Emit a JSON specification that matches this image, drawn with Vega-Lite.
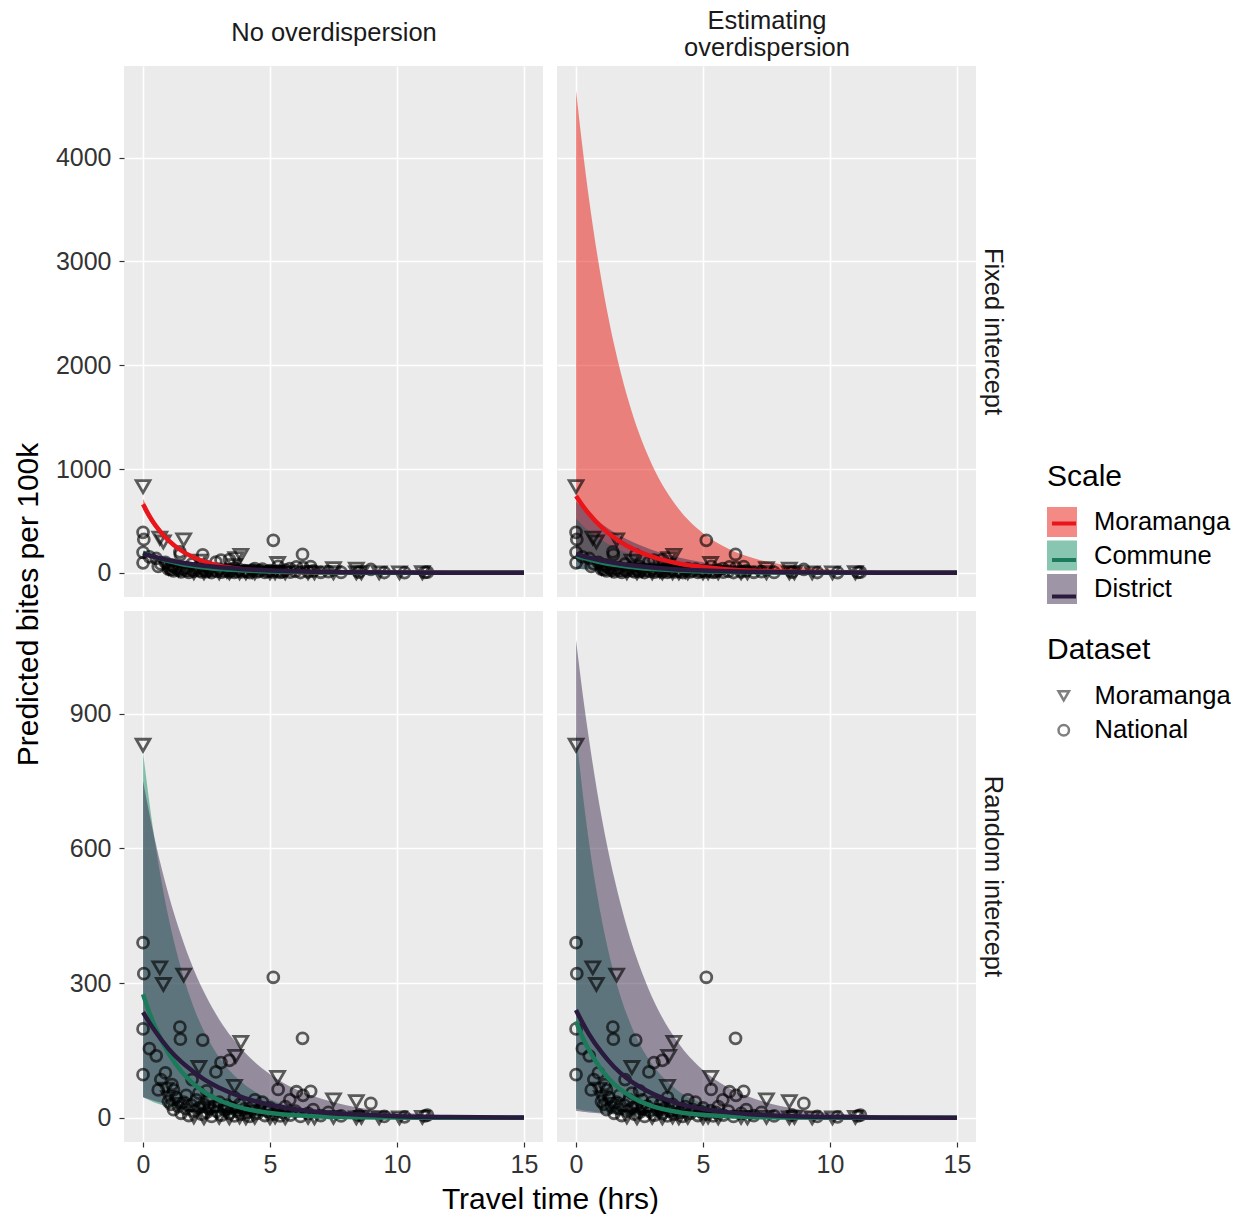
{
  "$schema": "https://vega.github.io/schema/vega-lite/v6.json",
  "background": "white",
  "padding": {"left": 13, "top": 8, "right": 0, "bottom": 0},
  "config": {
    "font": "Liberation Sans",
    "view": {"fill": "#EBEBEB", "stroke": null},
    "axis": {"domain": false, "grid": true, "gridColor": "white", "gridWidth": 1.6, "tickColor": "#333333", "tickSize": 5, "tickWidth": 1.2, "labelFontSize": 25, "labelColor": "#333333", "labelPadding": 5, "titleFontSize": 30, "titleFontWeight": "normal", "titleColor": "black", "labelFont": "Liberation Sans", "titleFont": "Liberation Sans", "format": "d"},
    "axisY": {"labelPadding": 8},
    "legend": {"labelFontSize": 25.5, "titleFontSize": 30, "titleFontWeight": "normal", "titleColor": "black", "labelColor": "black", "labelFont": "Liberation Sans", "titleFont": "Liberation Sans"}
  },
  "datasets": {
    "curves": [
      {"p":"TL","s":"Moramanga","x":0,"lo":607,"mid":660,"hi":713},
      {"p":"TL","s":"Moramanga","x":0.25,"lo":503,"mid":547,"hi":591},
      {"p":"TL","s":"Moramanga","x":0.5,"lo":417,"mid":453,"hi":489},
      {"p":"TL","s":"Moramanga","x":1,"lo":287,"mid":312,"hi":337},
      {"p":"TL","s":"Moramanga","x":1.5,"lo":198,"mid":215,"hi":232},
      {"p":"TL","s":"Moramanga","x":2,"lo":135,"mid":147,"hi":159},
      {"p":"TL","s":"Moramanga","x":2.5,"lo":93,"mid":101,"hi":109},
      {"p":"TL","s":"Moramanga","x":3,"lo":63,"mid":69,"hi":75},
      {"p":"TL","s":"Moramanga","x":4,"lo":30,"mid":33,"hi":36},
      {"p":"TL","s":"Moramanga","x":5,"lo":14,"mid":15.5,"hi":17},
      {"p":"TL","s":"Moramanga","x":6,"lo":6.7,"mid":7.3,"hi":7.9},
      {"p":"TL","s":"Moramanga","x":7,"lo":3.2,"mid":3.5,"hi":3.8},
      {"p":"TL","s":"Moramanga","x":8,"lo":1.5,"mid":1.6,"hi":1.7},
      {"p":"TL","s":"Moramanga","x":10,"lo":0.4,"mid":0.4,"hi":0.4},
      {"p":"TL","s":"Moramanga","x":12,"lo":0.1,"mid":0.1,"hi":0.1},
      {"p":"TL","s":"Moramanga","x":15,"lo":0,"mid":0,"hi":0},
      {"p":"TL","s":"Commune","x":0,"lo":176,"mid":195,"hi":215},
      {"p":"TL","s":"Commune","x":0.25,"lo":153,"mid":170,"hi":187},
      {"p":"TL","s":"Commune","x":0.5,"lo":133,"mid":148,"hi":163},
      {"p":"TL","s":"Commune","x":1,"lo":101,"mid":113,"hi":124},
      {"p":"TL","s":"Commune","x":1.5,"lo":77,"mid":85,"hi":94},
      {"p":"TL","s":"Commune","x":2,"lo":58,"mid":65,"hi":71},
      {"p":"TL","s":"Commune","x":2.5,"lo":44,"mid":49,"hi":54},
      {"p":"TL","s":"Commune","x":3,"lo":34,"mid":37,"hi":41},
      {"p":"TL","s":"Commune","x":4,"lo":19,"mid":22,"hi":24},
      {"p":"TL","s":"Commune","x":5,"lo":11,"mid":12.5,"hi":14},
      {"p":"TL","s":"Commune","x":6,"lo":6.5,"mid":7.2,"hi":7.9},
      {"p":"TL","s":"Commune","x":7,"lo":3.7,"mid":4.2,"hi":4.6},
      {"p":"TL","s":"Commune","x":8,"lo":2.2,"mid":2.4,"hi":2.6},
      {"p":"TL","s":"Commune","x":10,"lo":0.7,"mid":0.8,"hi":0.9},
      {"p":"TL","s":"Commune","x":12,"lo":0.2,"mid":0.3,"hi":0.3},
      {"p":"TL","s":"Commune","x":15,"lo":0,"mid":0.05,"hi":0.1},
      {"p":"TL","s":"District","x":0,"lo":167,"mid":185,"hi":204},
      {"p":"TL","s":"District","x":0.25,"lo":150,"mid":167,"hi":183},
      {"p":"TL","s":"District","x":0.5,"lo":135,"mid":150,"hi":165},
      {"p":"TL","s":"District","x":1,"lo":109,"mid":122,"hi":134},
      {"p":"TL","s":"District","x":1.5,"lo":89,"mid":99,"hi":108},
      {"p":"TL","s":"District","x":2,"lo":72,"mid":80,"hi":88},
      {"p":"TL","s":"District","x":2.5,"lo":58,"mid":65,"hi":71},
      {"p":"TL","s":"District","x":3,"lo":47,"mid":53,"hi":58},
      {"p":"TL","s":"District","x":4,"lo":31,"mid":34,"hi":38},
      {"p":"TL","s":"District","x":5,"lo":20,"mid":22.6,"hi":25},
      {"p":"TL","s":"District","x":6,"lo":13.4,"mid":14.9,"hi":16.4},
      {"p":"TL","s":"District","x":7,"lo":8.8,"mid":9.8,"hi":10.8},
      {"p":"TL","s":"District","x":8,"lo":5.8,"mid":6.4,"hi":7.1},
      {"p":"TL","s":"District","x":10,"lo":2.5,"mid":2.8,"hi":3.1},
      {"p":"TL","s":"District","x":12,"lo":1.1,"mid":1.2,"hi":1.3},
      {"p":"TL","s":"District","x":15,"lo":0.3,"mid":0.3,"hi":0.4},
      {"p":"TR","s":"Moramanga","x":0,"lo":120,"mid":740,"hi":4650},
      {"p":"TR","s":"Moramanga","x":0.25,"lo":105,"mid":650,"hi":4104},
      {"p":"TR","s":"Moramanga","x":0.5,"lo":91,"mid":571,"hi":3621},
      {"p":"TR","s":"Moramanga","x":1,"lo":69,"mid":440,"hi":2820},
      {"p":"TR","s":"Moramanga","x":1.5,"lo":53,"mid":339,"hi":2197},
      {"p":"TR","s":"Moramanga","x":2,"lo":40,"mid":261,"hi":1711},
      {"p":"TR","s":"Moramanga","x":2.5,"lo":30,"mid":202,"hi":1332},
      {"p":"TR","s":"Moramanga","x":3,"lo":23,"mid":155,"hi":1037},
      {"p":"TR","s":"Moramanga","x":4,"lo":13.3,"mid":92,"hi":629},
      {"p":"TR","s":"Moramanga","x":5,"lo":7.7,"mid":55,"hi":382},
      {"p":"TR","s":"Moramanga","x":6,"lo":4.4,"mid":33,"hi":232},
      {"p":"TR","s":"Moramanga","x":7,"lo":2.6,"mid":19.5,"hi":140},
      {"p":"TR","s":"Moramanga","x":8,"lo":1.5,"mid":11.5,"hi":85},
      {"p":"TR","s":"Moramanga","x":10,"lo":0.5,"mid":4.1,"hi":31},
      {"p":"TR","s":"Moramanga","x":12,"lo":0.2,"mid":1.4,"hi":11.5},
      {"p":"TR","s":"Moramanga","x":15,"lo":0.03,"mid":0.3,"hi":2.6},
      {"p":"TR","s":"Commune","x":0,"lo":40,"mid":165,"hi":520},
      {"p":"TR","s":"Commune","x":0.25,"lo":35,"mid":146,"hi":459},
      {"p":"TR","s":"Commune","x":0.5,"lo":31,"mid":129,"hi":405},
      {"p":"TR","s":"Commune","x":1,"lo":24,"mid":100,"hi":315},
      {"p":"TR","s":"Commune","x":1.5,"lo":19,"mid":78,"hi":246},
      {"p":"TR","s":"Commune","x":2,"lo":15,"mid":61,"hi":191},
      {"p":"TR","s":"Commune","x":2.5,"lo":11.5,"mid":47,"hi":149},
      {"p":"TR","s":"Commune","x":3,"lo":8.9,"mid":37,"hi":116},
      {"p":"TR","s":"Commune","x":4,"lo":5.4,"mid":22,"hi":70},
      {"p":"TR","s":"Commune","x":5,"lo":3.3,"mid":13.5,"hi":43},
      {"p":"TR","s":"Commune","x":6,"lo":2,"mid":8.2,"hi":26},
      {"p":"TR","s":"Commune","x":7,"lo":1.2,"mid":5,"hi":15.7},
      {"p":"TR","s":"Commune","x":8,"lo":0.7,"mid":3,"hi":9.5},
      {"p":"TR","s":"Commune","x":10,"lo":0.3,"mid":1.1,"hi":3.5},
      {"p":"TR","s":"Commune","x":12,"lo":0.1,"mid":0.4,"hi":1.3},
      {"p":"TR","s":"Commune","x":15,"lo":0,"mid":0.1,"hi":0.3},
      {"p":"TR","s":"District","x":0,"lo":40,"mid":180,"hi":690},
      {"p":"TR","s":"District","x":0.25,"lo":36,"mid":162,"hi":627},
      {"p":"TR","s":"District","x":0.5,"lo":32,"mid":146,"hi":571},
      {"p":"TR","s":"District","x":1,"lo":26,"mid":118,"hi":472},
      {"p":"TR","s":"District","x":1.5,"lo":21,"mid":96,"hi":391},
      {"p":"TR","s":"District","x":2,"lo":17,"mid":78,"hi":323},
      {"p":"TR","s":"District","x":2.5,"lo":14,"mid":63,"hi":267},
      {"p":"TR","s":"District","x":3,"lo":11.4,"mid":51,"hi":221},
      {"p":"TR","s":"District","x":4,"lo":7.4,"mid":33,"hi":151},
      {"p":"TR","s":"District","x":5,"lo":4.9,"mid":22,"hi":103},
      {"p":"TR","s":"District","x":6,"lo":3.2,"mid":14.5,"hi":70},
      {"p":"TR","s":"District","x":7,"lo":2.1,"mid":9.5,"hi":48},
      {"p":"TR","s":"District","x":8,"lo":1.4,"mid":6.2,"hi":33},
      {"p":"TR","s":"District","x":10,"lo":0.6,"mid":2.7,"hi":15.5},
      {"p":"TR","s":"District","x":12,"lo":0.3,"mid":1.2,"hi":7.2},
      {"p":"TR","s":"District","x":15,"lo":0.1,"mid":0.3,"hi":2.3},
      {"p":"BL","s":"Commune","x":0,"lo":45,"mid":275,"hi":815},
      {"p":"BL","s":"Commune","x":0.25,"lo":39,"mid":234,"hi":702},
      {"p":"BL","s":"Commune","x":0.5,"lo":33,"mid":199,"hi":604},
      {"p":"BL","s":"Commune","x":1,"lo":25,"mid":144,"hi":447},
      {"p":"BL","s":"Commune","x":1.5,"lo":18,"mid":104,"hi":332},
      {"p":"BL","s":"Commune","x":2,"lo":13.5,"mid":75,"hi":245},
      {"p":"BL","s":"Commune","x":2.5,"lo":10,"mid":54,"hi":182},
      {"p":"BL","s":"Commune","x":3,"lo":7.4,"mid":39,"hi":134},
      {"p":"BL","s":"Commune","x":4,"lo":4.1,"mid":20.4,"hi":74},
      {"p":"BL","s":"Commune","x":5,"lo":2.2,"mid":10.7,"hi":41},
      {"p":"BL","s":"Commune","x":6,"lo":1.2,"mid":5.6,"hi":22},
      {"p":"BL","s":"Commune","x":7,"lo":0.7,"mid":2.9,"hi":12.2},
      {"p":"BL","s":"Commune","x":8,"lo":0.4,"mid":1.5,"hi":6.7},
      {"p":"BL","s":"Commune","x":10,"lo":0.1,"mid":0.4,"hi":2},
      {"p":"BL","s":"Commune","x":12,"lo":0,"mid":0.1,"hi":0.6},
      {"p":"BL","s":"Commune","x":15,"lo":0,"mid":0,"hi":0.1},
      {"p":"BL","s":"District","x":0,"lo":46,"mid":235,"hi":750},
      {"p":"BL","s":"District","x":0.25,"lo":41,"mid":212,"hi":677},
      {"p":"BL","s":"District","x":0.5,"lo":37,"mid":191,"hi":611},
      {"p":"BL","s":"District","x":1,"lo":29,"mid":154,"hi":498},
      {"p":"BL","s":"District","x":1.5,"lo":23,"mid":125,"hi":406},
      {"p":"BL","s":"District","x":2,"lo":18.7,"mid":102,"hi":330},
      {"p":"BL","s":"District","x":2.5,"lo":15,"mid":82,"hi":269},
      {"p":"BL","s":"District","x":3,"lo":11.9,"mid":67,"hi":219},
      {"p":"BL","s":"District","x":4,"lo":7.6,"mid":44,"hi":146},
      {"p":"BL","s":"District","x":5,"lo":4.8,"mid":29,"hi":97},
      {"p":"BL","s":"District","x":6,"lo":3.1,"mid":18.9,"hi":64},
      {"p":"BL","s":"District","x":7,"lo":2,"mid":12.4,"hi":43},
      {"p":"BL","s":"District","x":8,"lo":1.3,"mid":8.2,"hi":28},
      {"p":"BL","s":"District","x":10,"lo":0.5,"mid":3.5,"hi":12.5},
      {"p":"BL","s":"District","x":12,"lo":0.2,"mid":1.5,"hi":5.5},
      {"p":"BL","s":"District","x":15,"lo":0.1,"mid":0.4,"hi":1.6},
      {"p":"BR","s":"Commune","x":0,"lo":20,"mid":215,"hi":860},
      {"p":"BR","s":"Commune","x":0.25,"lo":17,"mid":180,"hi":729},
      {"p":"BR","s":"Commune","x":0.5,"lo":15,"mid":152,"hi":618},
      {"p":"BR","s":"Commune","x":1,"lo":11,"mid":107,"hi":445},
      {"p":"BR","s":"Commune","x":1.5,"lo":8.1,"mid":75,"hi":320},
      {"p":"BR","s":"Commune","x":2,"lo":6,"mid":53,"hi":230},
      {"p":"BR","s":"Commune","x":2.5,"lo":4.5,"mid":37,"hi":165},
      {"p":"BR","s":"Commune","x":3,"lo":3.3,"mid":26,"hi":119},
      {"p":"BR","s":"Commune","x":4,"lo":1.8,"mid":13,"hi":61},
      {"p":"BR","s":"Commune","x":5,"lo":1,"mid":6.5,"hi":32},
      {"p":"BR","s":"Commune","x":6,"lo":0.5,"mid":3.2,"hi":16.4},
      {"p":"BR","s":"Commune","x":7,"lo":0.3,"mid":1.6,"hi":8.5},
      {"p":"BR","s":"Commune","x":8,"lo":0.2,"mid":0.8,"hi":4.4},
      {"p":"BR","s":"Commune","x":10,"lo":0,"mid":0.2,"hi":1.2},
      {"p":"BR","s":"Commune","x":12,"lo":0,"mid":0,"hi":0.3},
      {"p":"BR","s":"Commune","x":15,"lo":0,"mid":0,"hi":0},
      {"p":"BR","s":"District","x":0,"lo":15,"mid":240,"hi":1065},
      {"p":"BR","s":"District","x":0.25,"lo":13.4,"mid":212,"hi":949},
      {"p":"BR","s":"District","x":0.5,"lo":12,"mid":187,"hi":847},
      {"p":"BR","s":"District","x":1,"lo":9.6,"mid":146,"hi":672},
      {"p":"BR","s":"District","x":1.5,"lo":7.6,"mid":113,"hi":535},
      {"p":"BR","s":"District","x":2,"lo":6.1,"mid":88,"hi":425},
      {"p":"BR","s":"District","x":2.5,"lo":4.9,"mid":69,"hi":338},
      {"p":"BR","s":"District","x":3,"lo":3.9,"mid":54,"hi":268},
      {"p":"BR","s":"District","x":4,"lo":2.5,"mid":32,"hi":169},
      {"p":"BR","s":"District","x":5,"lo":1.6,"mid":19.7,"hi":106.5},
      {"p":"BR","s":"District","x":6,"lo":1,"mid":12,"hi":67},
      {"p":"BR","s":"District","x":7,"lo":0.6,"mid":7.2,"hi":43},
      {"p":"BR","s":"District","x":8,"lo":0.4,"mid":4.4,"hi":27},
      {"p":"BR","s":"District","x":10,"lo":0.2,"mid":1.6,"hi":10.8},
      {"p":"BR","s":"District","x":12,"lo":0.1,"mid":0.6,"hi":4.3},
      {"p":"BR","s":"District","x":15,"lo":0,"mid":0.1,"hi":1.1}
    ],
    "pts": [
      {"d":"Moramanga","x":0,"y":830},{"d":"Moramanga","x":0.66,"y":334},{"d":"Moramanga","x":0.8,"y":297},{"d":"Moramanga","x":1.6,"y":318},
      {"d":"Moramanga","x":3.85,"y":168},{"d":"Moramanga","x":3.65,"y":137},{"d":"Moramanga","x":5.3,"y":90},{"d":"Moramanga","x":2.2,"y":112},
      {"d":"Moramanga","x":3.6,"y":70},{"d":"Moramanga","x":0.9,"y":64},{"d":"Moramanga","x":7.5,"y":40},{"d":"Moramanga","x":8.4,"y":36},
      {"d":"Moramanga","x":1.0,"y":45},{"d":"Moramanga","x":1.4,"y":30},{"d":"Moramanga","x":2.6,"y":22},{"d":"Moramanga","x":3.3,"y":15},
      {"d":"Moramanga","x":4.3,"y":12},{"d":"Moramanga","x":2.0,"y":2},{"d":"Moramanga","x":2.4,"y":0},{"d":"Moramanga","x":3.0,"y":1},
      {"d":"Moramanga","x":3.4,"y":0},{"d":"Moramanga","x":3.8,"y":2},{"d":"Moramanga","x":4.05,"y":0},{"d":"Moramanga","x":4.4,"y":1},
      {"d":"Moramanga","x":5.0,"y":0},{"d":"Moramanga","x":5.2,"y":2},{"d":"Moramanga","x":5.6,"y":0},{"d":"Moramanga","x":6.5,"y":1},
      {"d":"Moramanga","x":6.75,"y":0},{"d":"Moramanga","x":7.5,"y":1},{"d":"Moramanga","x":8.4,"y":0},{"d":"Moramanga","x":8.6,"y":1},
      {"d":"Moramanga","x":9.3,"y":0},{"d":"Moramanga","x":10.1,"y":0},{"d":"Moramanga","x":11.0,"y":1},
      {"d":"National","x":0,"y":390},{"d":"National","x":0.03,"y":321},{"d":"National","x":0,"y":198},{"d":"National","x":0,"y":96},
      {"d":"National","x":5.13,"y":313},{"d":"National","x":6.28,"y":177},{"d":"National","x":1.45,"y":202},{"d":"National","x":1.47,"y":175},
      {"d":"National","x":2.35,"y":173},{"d":"National","x":0.25,"y":154},{"d":"National","x":0.52,"y":138},{"d":"National","x":0.88,"y":100},
      {"d":"National","x":1.0,"y":36},{"d":"National","x":3.07,"y":123},{"d":"National","x":3.4,"y":128},{"d":"National","x":2.87,"y":102},
      {"d":"National","x":5.32,"y":63},{"d":"National","x":6.04,"y":58},{"d":"National","x":6.6,"y":59},{"d":"National","x":6.3,"y":50},
      {"d":"National","x":5.78,"y":40},{"d":"National","x":8.97,"y":32},{"d":"National","x":11.1,"y":4},{"d":"National","x":1.14,"y":74},
      {"d":"National","x":1.93,"y":85},{"d":"National","x":2.2,"y":55},{"d":"National","x":2.6,"y":40},{"d":"National","x":0.7,"y":85},
      {"d":"National","x":0.6,"y":62},{"d":"National","x":1.2,"y":62},{"d":"National","x":1.7,"y":50},{"d":"National","x":2.5,"y":60},
      {"d":"National","x":3.6,"y":45},{"d":"National","x":4.4,"y":40},{"d":"National","x":4.7,"y":35},
      {"d":"National","x":1.1,"y":30},{"d":"National","x":1.2,"y":18},{"d":"National","x":1.3,"y":45},{"d":"National","x":1.4,"y":25},
      {"d":"National","x":1.5,"y":10},{"d":"National","x":1.6,"y":35},{"d":"National","x":1.7,"y":20},{"d":"National","x":1.8,"y":5},
      {"d":"National","x":1.9,"y":28},{"d":"National","x":2.0,"y":15},{"d":"National","x":2.1,"y":40},{"d":"National","x":2.2,"y":22},
      {"d":"National","x":2.3,"y":8},{"d":"National","x":2.4,"y":30},{"d":"National","x":2.5,"y":12},{"d":"National","x":2.6,"y":20},
      {"d":"National","x":2.7,"y":3},{"d":"National","x":2.8,"y":26},{"d":"National","x":2.9,"y":14},{"d":"National","x":3.0,"y":35},
      {"d":"National","x":3.1,"y":6},{"d":"National","x":3.2,"y":18},{"d":"National","x":3.3,"y":28},{"d":"National","x":3.4,"y":10},
      {"d":"National","x":3.5,"y":22},{"d":"National","x":3.6,"y":4},{"d":"National","x":3.7,"y":15},{"d":"National","x":3.8,"y":30},
      {"d":"National","x":3.9,"y":8},{"d":"National","x":4.0,"y":20},{"d":"National","x":4.1,"y":12},{"d":"National","x":4.2,"y":3},
      {"d":"National","x":4.3,"y":25},{"d":"National","x":4.5,"y":10},{"d":"National","x":4.6,"y":18},{"d":"National","x":4.8,"y":5},
      {"d":"National","x":4.9,"y":14},{"d":"National","x":5.0,"y":22},{"d":"National","x":5.1,"y":8},{"d":"National","x":5.3,"y":16},
      {"d":"National","x":5.4,"y":4},{"d":"National","x":5.5,"y":12},{"d":"National","x":5.6,"y":25},{"d":"National","x":5.8,"y":6},
      {"d":"National","x":6.0,"y":15},{"d":"National","x":6.2,"y":3},{"d":"National","x":6.5,"y":10},{"d":"National","x":6.7,"y":18},
      {"d":"National","x":7.0,"y":5},{"d":"National","x":7.3,"y":12},{"d":"National","x":7.8,"y":4},{"d":"National","x":8.5,"y":6},
      {"d":"National","x":9.5,"y":3},{"d":"National","x":10.3,"y":2},{"d":"National","x":11.2,"y":6}
    ]
  },
  "columns": 2,
  "spacing": 14,
  "bounds": "flush",
  "resolve": {"scale": {"x": "independent", "y": "independent", "fill": "shared", "stroke": "shared", "shape": "shared"}},
  "concat": [
    {
      "width": 419, "height": 531,
      "layer": [
        {
          "data": {"name": "curves"},
          "transform": [{"filter": "datum.p === 'TL'"}],
          "mark": {"type": "area", "fillOpacity": 0.5, "interpolate": "monotone"},
          "encoding": {
            "x": {"field": "x", "type": "quantitative", "scale": {"domain": [-0.75, 15.75], "nice": false, "zero": false},
                  "axis": {"orient": "top", "values": [0, 5, 10, 15], "labels": false, "ticks": false, "title": "No overdispersion", "titleX": 209.5, "titleY": -34, "titleBaseline": "middle", "titleFontSize": 25.5, "titleColor": "#1A1A1A"}},
            "y": {"field": "lo", "type": "quantitative", "scale": {"domain": [-233, 4883], "nice": false, "zero": false},
                  "axis": {"values": [0, 1000, 2000, 3000, 4000], "format": "d", "title": "Predicted bites per 100k", "titleX": -96, "titleY": 538, "titleBaseline": "middle"}},
            "y2": {"field": "hi"},
            "fill": {"field": "s", "type": "nominal", "scale": {"domain": ["Moramanga", "Commune", "District", "none"], "range": ["#E8150D", "#138D65", "#3E2C50", "#FFFFFF"]},
                     "legend": {"title": "Scale", "orient": "none", "legendX": 923, "legendY": 396, "values": ["Moramanga", "Commune", "District"], "symbolType": "square", "symbolSize": 900, "symbolOpacity": 0.5, "symbolStrokeWidth": 0, "labelOffset": 17, "rowPadding": 3.5, "titlePadding": 15}}
          }
        },
        {
          "data": {"name": "pts"},
          "transform": [{"filter": "datum.d === 'Moramanga'"}],
          "mark": {"type": "point", "filled": false, "color": "black", "opacity": 0.62, "strokeWidth": 2.8, "size": 190},
          "encoding": {
            "x": {"field": "x", "type": "quantitative"},
            "y": {"field": "y", "type": "quantitative"},
            "shape": {"field": "d", "type": "nominal", "scale": {"domain": ["Moramanga", "National"], "range": ["triangle-down", "circle"]},
                      "legend": {"title": "Dataset", "orient": "none", "legendX": 923, "legendY": 569, "symbolSize": 110, "symbolStrokeColor": "#7F7F7F", "symbolStrokeWidth": 2.5, "symbolFillColor": "transparent", "symbolOpacity": 1, "symbolOffset": 4, "labelOffset": 18, "rowPadding": 7.5, "titlePadding": 18}}
          }
        },
        {
          "data": {"name": "pts"},
          "transform": [{"filter": "datum.d === 'National'"}],
          "mark": {"type": "point", "filled": false, "color": "black", "opacity": 0.62, "strokeWidth": 2.8, "size": 120},
          "encoding": {
            "x": {"field": "x", "type": "quantitative"},
            "y": {"field": "y", "type": "quantitative"},
            "shape": {"field": "d", "type": "nominal", "scale": {"domain": ["Moramanga", "National"], "range": ["triangle-down", "circle"]},
                      "legend": {"title": "Dataset", "orient": "none", "legendX": 923, "legendY": 569, "symbolSize": 110, "symbolStrokeColor": "#7F7F7F", "symbolStrokeWidth": 2.5, "symbolFillColor": "transparent", "symbolOpacity": 1, "symbolOffset": 4, "labelOffset": 18, "rowPadding": 7.5, "titlePadding": 18}}
          }
        },
        {
          "data": {"name": "curves"},
          "transform": [{"filter": "datum.p === 'TL'"}],
          "mark": {"type": "line", "strokeWidth": 4.5, "interpolate": "monotone"},
          "encoding": {
            "x": {"field": "x", "type": "quantitative"},
            "y": {"field": "mid", "type": "quantitative"},
            "stroke": {"field": "s", "type": "nominal", "scale": {"domain": ["Moramanga", "Commune", "District"], "range": ["#E8161B", "#1B7B5B", "#2A1A3E"]},
                       "legend": {"title": null, "orient": "none", "legendX": 923, "legendY": 440.5, "symbolType": "M-0.467,-0.467L-0.467,-0.467M0.467,0.467L0.467,0.467M-0.8,0L0.8,0", "symbolSize": 900, "symbolStrokeWidth": 4, "labelExpr": "''", "labelOffset": 17, "rowPadding": 3.5}}
          }
        }
      ]
    },
    {
      "width": 419, "height": 531,
      "title": {"text": "Fixed intercept", "orient": "right", "anchor": "middle", "frame": "group", "offset": -9, "baseline": "middle", "fontSize": 25.5, "fontWeight": "normal", "color": "#1A1A1A", "font": "Liberation Sans"},
      "layer": [
        {
          "data": {"name": "curves"},
          "transform": [{"filter": "datum.p === 'TR'"}],
          "mark": {"type": "area", "fillOpacity": 0.5, "interpolate": "monotone"},
          "encoding": {
            "x": {"field": "x", "type": "quantitative", "scale": {"domain": [-0.75, 15.75], "nice": false, "zero": false},
                  "axis": {"orient": "top", "values": [0, 5, 10, 15], "labels": false, "ticks": false, "title": ["Estimating", "overdispersion"], "titleX": 209.5, "titleY": -45.5, "titleBaseline": "middle", "titleLineHeight": 27, "titleFontSize": 25.5, "titleColor": "#1A1A1A"}},
            "y": {"field": "lo", "type": "quantitative", "scale": {"domain": [-233, 4883], "nice": false, "zero": false},
                  "axis": {"values": [0, 1000, 2000, 3000, 4000], "labels": false, "ticks": false, "title": null}},
            "y2": {"field": "hi"},
            "fill": {"field": "s", "type": "nominal", "scale": {"domain": ["Moramanga", "Commune", "District", "none"], "range": ["#E8150D", "#138D65", "#3E2C50", "#FFFFFF"]},
                     "legend": {"title": "Scale", "orient": "none", "legendX": 923, "legendY": 396, "values": ["Moramanga", "Commune", "District"], "symbolType": "square", "symbolSize": 900, "symbolOpacity": 0.5, "symbolStrokeWidth": 0, "labelOffset": 17, "rowPadding": 3.5, "titlePadding": 15}}
          }
        },
        {
          "data": {"name": "pts"},
          "transform": [{"filter": "datum.d === 'Moramanga'"}],
          "mark": {"type": "point", "filled": false, "color": "black", "opacity": 0.62, "strokeWidth": 2.8, "size": 190},
          "encoding": {
            "x": {"field": "x", "type": "quantitative"},
            "y": {"field": "y", "type": "quantitative"},
            "shape": {"field": "d", "type": "nominal", "scale": {"domain": ["Moramanga", "National"], "range": ["triangle-down", "circle"]},
                      "legend": {"title": "Dataset", "orient": "none", "legendX": 923, "legendY": 569, "symbolSize": 110, "symbolStrokeColor": "#7F7F7F", "symbolStrokeWidth": 2.5, "symbolFillColor": "transparent", "symbolOpacity": 1, "symbolOffset": 4, "labelOffset": 18, "rowPadding": 7.5, "titlePadding": 18}}
          }
        },
        {
          "data": {"name": "pts"},
          "transform": [{"filter": "datum.d === 'National'"}],
          "mark": {"type": "point", "filled": false, "color": "black", "opacity": 0.62, "strokeWidth": 2.8, "size": 120},
          "encoding": {
            "x": {"field": "x", "type": "quantitative"},
            "y": {"field": "y", "type": "quantitative"},
            "shape": {"field": "d", "type": "nominal", "scale": {"domain": ["Moramanga", "National"], "range": ["triangle-down", "circle"]},
                      "legend": {"title": "Dataset", "orient": "none", "legendX": 923, "legendY": 569, "symbolSize": 110, "symbolStrokeColor": "#7F7F7F", "symbolStrokeWidth": 2.5, "symbolFillColor": "transparent", "symbolOpacity": 1, "symbolOffset": 4, "labelOffset": 18, "rowPadding": 7.5, "titlePadding": 18}}
          }
        },
        {
          "data": {"name": "curves"},
          "transform": [{"filter": "datum.p === 'TR'"}],
          "mark": {"type": "line", "strokeWidth": 4.5, "interpolate": "monotone"},
          "encoding": {
            "x": {"field": "x", "type": "quantitative"},
            "y": {"field": "mid", "type": "quantitative"},
            "stroke": {"field": "s", "type": "nominal", "scale": {"domain": ["Moramanga", "Commune", "District"], "range": ["#E8161B", "#1B7B5B", "#2A1A3E"]},
                       "legend": {"title": null, "orient": "none", "legendX": 923, "legendY": 440.5, "symbolType": "M-0.467,-0.467L-0.467,-0.467M0.467,0.467L0.467,0.467M-0.8,0L0.8,0", "symbolSize": 900, "symbolStrokeWidth": 4, "labelExpr": "''", "labelOffset": 17, "rowPadding": 3.5}}
          }
        }
      ]
    },
    {
      "width": 419, "height": 531,
      "layer": [
        {
          "data": {"name": "curves"},
          "transform": [{"filter": "datum.p === 'BL'"}],
          "mark": {"type": "area", "fillOpacity": 0.5, "interpolate": "monotone"},
          "encoding": {
            "x": {"field": "x", "type": "quantitative", "scale": {"domain": [-0.75, 15.75], "nice": false, "zero": false},
                  "axis": {"values": [0, 5, 10, 15], "title": "Travel time (hrs)", "titleX": 426, "titleY": 57, "titleBaseline": "middle"}},
            "y": {"field": "lo", "type": "quantitative", "scale": {"domain": [-54, 1129], "nice": false, "zero": false},
                  "axis": {"values": [0, 300, 600, 900], "title": null}},
            "y2": {"field": "hi"},
            "fill": {"field": "s", "type": "nominal", "scale": {"domain": ["Moramanga", "Commune", "District", "none"], "range": ["#E8150D", "#138D65", "#3E2C50", "#FFFFFF"]},
                     "legend": {"title": "Scale", "orient": "none", "legendX": 923, "legendY": 396, "values": ["Moramanga", "Commune", "District"], "symbolType": "square", "symbolSize": 900, "symbolOpacity": 0.5, "symbolStrokeWidth": 0, "labelOffset": 17, "rowPadding": 3.5, "titlePadding": 15}}
          }
        },
        {
          "data": {"name": "pts"},
          "transform": [{"filter": "datum.d === 'Moramanga'"}],
          "mark": {"type": "point", "filled": false, "color": "black", "opacity": 0.62, "strokeWidth": 2.8, "size": 190},
          "encoding": {
            "x": {"field": "x", "type": "quantitative"},
            "y": {"field": "y", "type": "quantitative"},
            "shape": {"field": "d", "type": "nominal", "scale": {"domain": ["Moramanga", "National"], "range": ["triangle-down", "circle"]},
                      "legend": {"title": "Dataset", "orient": "none", "legendX": 923, "legendY": 569, "symbolSize": 110, "symbolStrokeColor": "#7F7F7F", "symbolStrokeWidth": 2.5, "symbolFillColor": "transparent", "symbolOpacity": 1, "symbolOffset": 4, "labelOffset": 18, "rowPadding": 7.5, "titlePadding": 18}}
          }
        },
        {
          "data": {"name": "pts"},
          "transform": [{"filter": "datum.d === 'National'"}],
          "mark": {"type": "point", "filled": false, "color": "black", "opacity": 0.62, "strokeWidth": 2.8, "size": 120},
          "encoding": {
            "x": {"field": "x", "type": "quantitative"},
            "y": {"field": "y", "type": "quantitative"},
            "shape": {"field": "d", "type": "nominal", "scale": {"domain": ["Moramanga", "National"], "range": ["triangle-down", "circle"]},
                      "legend": {"title": "Dataset", "orient": "none", "legendX": 923, "legendY": 569, "symbolSize": 110, "symbolStrokeColor": "#7F7F7F", "symbolStrokeWidth": 2.5, "symbolFillColor": "transparent", "symbolOpacity": 1, "symbolOffset": 4, "labelOffset": 18, "rowPadding": 7.5, "titlePadding": 18}}
          }
        },
        {
          "data": {"name": "curves"},
          "transform": [{"filter": "datum.p === 'BL'"}],
          "mark": {"type": "line", "strokeWidth": 4.5, "interpolate": "monotone"},
          "encoding": {
            "x": {"field": "x", "type": "quantitative"},
            "y": {"field": "mid", "type": "quantitative"},
            "stroke": {"field": "s", "type": "nominal", "scale": {"domain": ["Moramanga", "Commune", "District"], "range": ["#E8161B", "#1B7B5B", "#2A1A3E"]},
                       "legend": {"title": null, "orient": "none", "legendX": 923, "legendY": 440.5, "symbolType": "M-0.467,-0.467L-0.467,-0.467M0.467,0.467L0.467,0.467M-0.8,0L0.8,0", "symbolSize": 900, "symbolStrokeWidth": 4, "labelExpr": "''", "labelOffset": 17, "rowPadding": 3.5}}
          }
        }
      ]
    },
    {
      "width": 419, "height": 531,
      "title": {"text": "Random intercept", "orient": "right", "anchor": "middle", "frame": "group", "offset": -9, "baseline": "middle", "fontSize": 25.5, "fontWeight": "normal", "color": "#1A1A1A", "font": "Liberation Sans"},
      "layer": [
        {
          "data": {"name": "curves"},
          "transform": [{"filter": "datum.p === 'BR'"}],
          "mark": {"type": "area", "fillOpacity": 0.5, "interpolate": "monotone"},
          "encoding": {
            "x": {"field": "x", "type": "quantitative", "scale": {"domain": [-0.75, 15.75], "nice": false, "zero": false},
                  "axis": {"values": [0, 5, 10, 15], "title": null}},
            "y": {"field": "lo", "type": "quantitative", "scale": {"domain": [-54, 1129], "nice": false, "zero": false},
                  "axis": {"values": [0, 300, 600, 900], "labels": false, "ticks": false, "title": null}},
            "y2": {"field": "hi"},
            "fill": {"field": "s", "type": "nominal", "scale": {"domain": ["Moramanga", "Commune", "District", "none"], "range": ["#E8150D", "#138D65", "#3E2C50", "#FFFFFF"]},
                     "legend": {"title": "Scale", "orient": "none", "legendX": 923, "legendY": 396, "values": ["Moramanga", "Commune", "District"], "symbolType": "square", "symbolSize": 900, "symbolOpacity": 0.5, "symbolStrokeWidth": 0, "labelOffset": 17, "rowPadding": 3.5, "titlePadding": 15}}
          }
        },
        {
          "data": {"name": "pts"},
          "transform": [{"filter": "datum.d === 'Moramanga'"}],
          "mark": {"type": "point", "filled": false, "color": "black", "opacity": 0.62, "strokeWidth": 2.8, "size": 190},
          "encoding": {
            "x": {"field": "x", "type": "quantitative"},
            "y": {"field": "y", "type": "quantitative"},
            "shape": {"field": "d", "type": "nominal", "scale": {"domain": ["Moramanga", "National"], "range": ["triangle-down", "circle"]},
                      "legend": {"title": "Dataset", "orient": "none", "legendX": 923, "legendY": 569, "symbolSize": 110, "symbolStrokeColor": "#7F7F7F", "symbolStrokeWidth": 2.5, "symbolFillColor": "transparent", "symbolOpacity": 1, "symbolOffset": 4, "labelOffset": 18, "rowPadding": 7.5, "titlePadding": 18}}
          }
        },
        {
          "data": {"name": "pts"},
          "transform": [{"filter": "datum.d === 'National'"}],
          "mark": {"type": "point", "filled": false, "color": "black", "opacity": 0.62, "strokeWidth": 2.8, "size": 120},
          "encoding": {
            "x": {"field": "x", "type": "quantitative"},
            "y": {"field": "y", "type": "quantitative"},
            "shape": {"field": "d", "type": "nominal", "scale": {"domain": ["Moramanga", "National"], "range": ["triangle-down", "circle"]},
                      "legend": {"title": "Dataset", "orient": "none", "legendX": 923, "legendY": 569, "symbolSize": 110, "symbolStrokeColor": "#7F7F7F", "symbolStrokeWidth": 2.5, "symbolFillColor": "transparent", "symbolOpacity": 1, "symbolOffset": 4, "labelOffset": 18, "rowPadding": 7.5, "titlePadding": 18}}
          }
        },
        {
          "data": {"name": "curves"},
          "transform": [{"filter": "datum.p === 'BR'"}],
          "mark": {"type": "line", "strokeWidth": 4.5, "interpolate": "monotone"},
          "encoding": {
            "x": {"field": "x", "type": "quantitative"},
            "y": {"field": "mid", "type": "quantitative"},
            "stroke": {"field": "s", "type": "nominal", "scale": {"domain": ["Moramanga", "Commune", "District"], "range": ["#E8161B", "#1B7B5B", "#2A1A3E"]},
                       "legend": {"title": null, "orient": "none", "legendX": 923, "legendY": 440.5, "symbolType": "M-0.467,-0.467L-0.467,-0.467M0.467,0.467L0.467,0.467M-0.8,0L0.8,0", "symbolSize": 900, "symbolStrokeWidth": 4, "labelExpr": "''", "labelOffset": 17, "rowPadding": 3.5}}
          }
        }
      ]
    }
  ]
}
